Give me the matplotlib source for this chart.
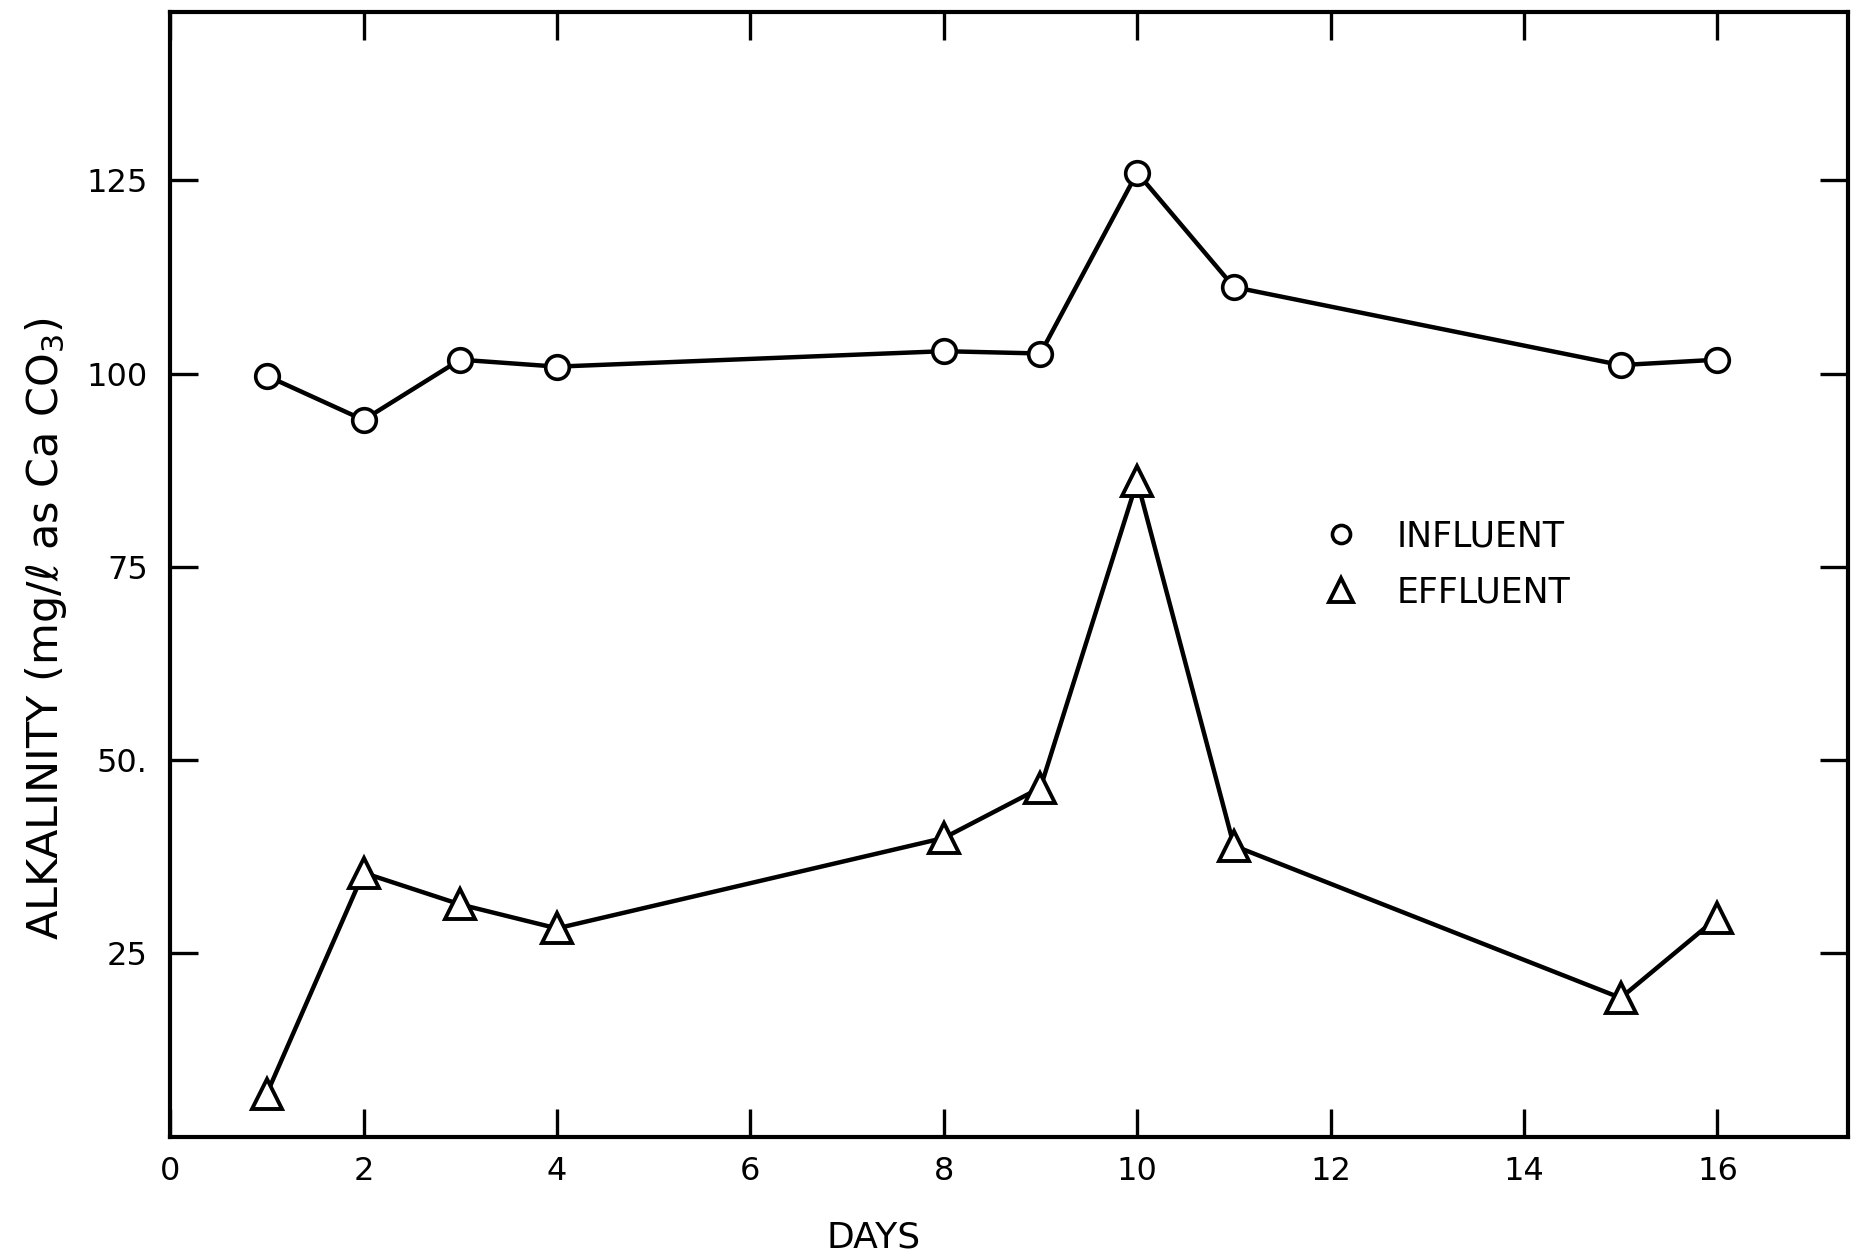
import matplotlib
matplotlib.use("Agg")
import matplotlib.pyplot as plt
from matplotlib.lines import Line2D

# Valeurs
days = [1, 2, 3, 4, 8, 9, 10, 11, 15, 16]
influent = [99.7, 94.0, 101.8, 100.9, 102.9, 102.6, 126.0, 111.2, 101.1, 101.8]
effluent = [6.8, 35.4, 31.3, 28.2, 39.9, 46.4, 86.1, 38.9, 19.2, 29.6]

x_ticks = [0, 2, 4, 6, 8, 10, 12, 14, 16]
y_ticks = [25, 50, 75, 100, 125]
y_tick_labels = ['25', '50.', '75', '100', '125']

plt.rcParams['font.family'] = ['DejaVu Sans']

fig = plt.figure(figsize=(18.61, 12.6), dpi=100)
ax = fig.add_axes([0.0914, 0.0976, 0.9016, 0.8929])

ax.plot(days, influent, color='black', lw=3.2, marker='o', ms=17,
        mfc='white', mec='black', mew=2.6, zorder=3)
ax.plot(days, effluent, color='black', lw=3.2, marker='^', ms=21,
        mfc='white', mec='black', mew=2.8, zorder=3)

ax.set_xlim(0, 17.35)
ax.set_ylim(1.2, 146.8)

ax.set_xticks(x_ticks)
ax.set_yticks(y_ticks)
ax.set_yticklabels(y_tick_labels)
ax.tick_params(axis='both', direction='in', length=20, width=2.4,
               labelsize=23, top=True, right=True)
ax.tick_params(axis='x', pad=14)
ax.tick_params(axis='y', pad=16)

for s in ax.spines.values():
    s.set_linewidth(3)

ax.set_xlabel('DAYS', fontsize=26)
ax.xaxis.set_label_coords(0.419, -0.074)
ax.set_ylabel('ALKALINITY (mg/\u2113 as Ca CO$_3$)', fontsize=31)
ax.yaxis.set_label_coords(-0.060, 0.452)

# Légende
handles = [
    Line2D([], [], ls='none', marker='o', ms=13, mfc='white', mec='black', mew=2.6),
    Line2D([], [], ls='none', marker='^', ms=17, mfc='white', mec='black', mew=2.8),
]
ax.legend(handles, ['INFLUENT', 'EFFLUENT'], loc='center left',
          bbox_to_anchor=(0.677, 0.509), frameon=False, fontsize=25,
          handletextpad=0.6, labelspacing=0.62, borderpad=0, borderaxespad=0)

plt.savefig('out.png', dpi=100)
